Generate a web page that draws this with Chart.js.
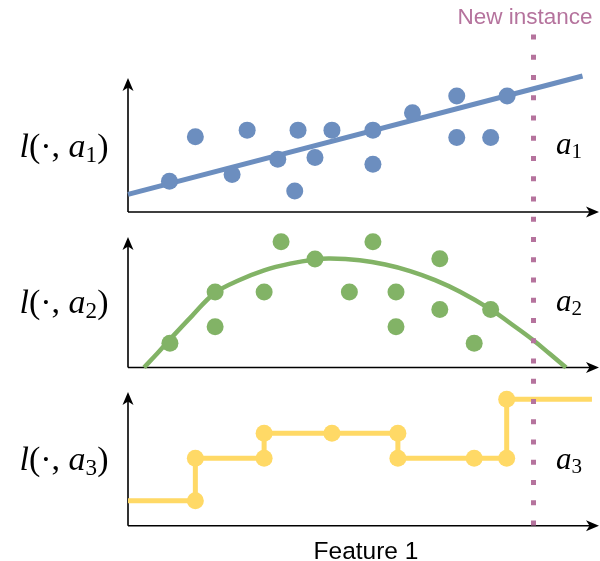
<!DOCTYPE html>
<html>
<head>
<meta charset="utf-8">
<script src="https://cdn.jsdelivr.net/npm/chart.js@4.4.0/dist/chart.umd.min.js"></script>
<style>
  html, body { margin: 0; padding: 0; background: #fff; }
  #wrap { position: relative; width: 600px; height: 561px; overflow: hidden; }
  #wrap canvas { position: absolute; left: 0; top: 0; }
  .math { position: absolute; font-family: 'Liberation Serif', 'Times New Roman', serif; color: #000;
          white-space: nowrap; line-height: 1; transform: translate(-50%, -50%); }
  .math i { font-style: italic; }
  .math sub { font-size: 0.68em; vertical-align: -0.22em; line-height: 0; }
  .left { font-size: 34px; }
  .right { font-size: 31px; }
  .sans { position: absolute; font-family: 'Liberation Sans', Arial, sans-serif; white-space: nowrap;
          line-height: 1; transform: translate(-50%, -50%); }
</style>
</head>
<body>
<div id="wrap">
  <canvas id="c1" width="600" height="561"></canvas>
  <canvas id="c2" width="600" height="561"></canvas>
  <canvas id="c3" width="600" height="561"></canvas>

  <div class="math left" style="left:64px; top:146px;"><i>l</i>(·, <i>a</i><sub>1</sub>)</div>
  <div class="math left" style="left:64px; top:302px;"><i>l</i>(·, <i>a</i><sub>2</sub>)</div>
  <div class="math left" style="left:64px; top:459px;"><i>l</i>(·, <i>a</i><sub>3</sub>)</div>

  <div class="math right" style="left:569px; top:143px;"><i>a</i><sub>1</sub></div>
  <div class="math right" style="left:569px; top:300px;"><i>a</i><sub>2</sub></div>
  <div class="math right" style="left:569px; top:458px;"><i>a</i><sub>3</sub></div>

  <div class="sans" style="left:525px; top:17px; font-size:22.5px; color:#b5739d;">New instance</div>
  <div class="sans" style="left:366px; top:551px; font-size:24.5px; color:#000;">Feature 1</div>
</div>

<script>
// ── Data (feature on x, loss on y; both axes run 0..10) ──
const newInstanceX = 8.6;

// a1: scattered losses + linear fit
const a1X = [0.88, 1.43, 2.21, 2.53, 3.18, 3.54, 3.61, 3.97, 4.33, 5.20, 5.20, 6.04, 6.98, 6.98, 7.70, 8.05];
const a1Y = [2.30, 5.61, 2.80, 6.11, 3.94, 1.57, 6.11, 4.07, 6.11, 6.11, 3.57, 7.40, 8.65, 5.56, 5.56, 8.65];
const a1FitX = [0, 9.65];
const a1FitY = [1.32, 10.15];

// a2: scattered losses + curved fit
const a2X = [0.89, 1.85, 1.85, 2.89, 3.25, 3.97, 4.70, 5.20, 5.69, 5.69, 6.62, 6.62, 7.35, 7.70];
const a2Y = [1.86, 5.79, 3.13, 5.79, 9.63, 8.31, 5.79, 9.63, 5.79, 3.13, 8.33, 4.45, 1.86, 4.45];
const a2FitX = [0.34, 0.62, 0.89, 1.36, 1.85, 2.38, 2.89, 3.44, 3.97, 4.29, 4.92,
                5.46, 5.99, 6.52, 7.05, 7.70, 8.11, 8.60, 8.96, 9.30];
const a2FitY = [0.00, 1.07, 2.15, 3.96, 5.72, 6.72, 7.45, 7.96, 8.28, 8.35, 8.21,
                7.89, 7.39, 6.70, 5.81, 4.46, 3.41, 2.11, 1.03, 0.00];

// a3: step function (dots only at the breakpoints)
const a3X = [0, 1.43, 1.43, 2.89, 2.89, 4.33, 5.73, 5.73, 7.35, 8.04, 8.04, 9.85];
const a3Y = [1.87, 1.87, 5.04, 5.04, 6.91, 6.91, 6.91, 5.04, 5.04, 5.04, 9.45, 9.45];
const a3Dot = [0, 1, 1, 1, 1, 1, 1, 1, 1, 1, 1, 0];

const blue   = '#6c8ebf';
const green  = '#82b366';
const yellow = '#ffd966';
const pink   = '#b5739d';

const toXY = (xs, ys) => xs.map((x, i) => ({ x: x, y: ys[i] }));

// ── axes with arrow heads ──
function arrowHead(ctx, tx, ty, dx, dy) {
  const len = 13, half = 5.5, notch = 9.5;
  const px = -dy, py = dx;
  ctx.beginPath();
  ctx.moveTo(tx, ty);
  ctx.lineTo(tx - dx * len + px * half, ty - dy * len + py * half);
  ctx.lineTo(tx - dx * notch, ty - dy * notch);
  ctx.lineTo(tx - dx * len - px * half, ty - dy * len - py * half);
  ctx.closePath();
  ctx.fill();
}

const axisArrows = {
  id: 'axisArrows',
  beforeDatasetsDraw(chart) {
    const { ctx, chartArea: a } = chart;
    ctx.save();
    ctx.strokeStyle = '#000';
    ctx.fillStyle = '#000';
    ctx.lineWidth = 1.6;
    ctx.beginPath();
    ctx.moveTo(a.left, a.bottom);
    ctx.lineTo(a.left, a.top + 8);
    ctx.moveTo(a.left, a.bottom);
    ctx.lineTo(a.right - 8, a.bottom);
    ctx.stroke();
    arrowHead(ctx, a.left, a.top, 0, -1);
    arrowHead(ctx, a.right, a.bottom, 1, 0);
    ctx.restore();
  }
};

const newInstanceLine = {
  id: 'newInstanceLine',
  afterDatasetsDraw(chart) {
    const { ctx } = chart;
    const x = Math.round(chart.scales.x.getPixelForValue(newInstanceX)) + 0.5;
    ctx.save();
    ctx.strokeStyle = pink;
    ctx.lineWidth = 5;
    ctx.setLineDash([5, 15.25]);
    ctx.beginPath();
    ctx.moveTo(x, 34.5);
    ctx.lineTo(x, 526);
    ctx.stroke();
    ctx.restore();
  }
};

function makeChart(id, padding, datasets, extraPlugins) {
  return new Chart(document.getElementById(id), {
    type: 'scatter',
    data: { datasets: datasets },
    options: {
      responsive: false,
      animation: false,
      events: [],
      layout: { padding: padding, autoPadding: false },
      plugins: { legend: { display: false }, tooltip: { enabled: false } },
      scales: {
        x: { type: 'linear', min: 0, max: 10, display: false },
        y: { type: 'linear', min: 0, max: 10, display: false }
      }
    },
    plugins: [axisArrows].concat(extraPlugins || [])
  });
}

const dot = { pointRadius: 8.5, pointBorderWidth: 0, pointHoverRadius: 8.5, clip: false };

makeChart('c1', { left: 128, right: 1, top: 78, bottom: 349 }, [
  Object.assign({ data: toXY(a1X, a1Y), backgroundColor: blue, order: 1 }, dot),
  { type: 'line', data: toXY(a1FitX, a1FitY), borderColor: blue, borderWidth: 5,
    pointRadius: 0, order: 2, clip: false }
]);

makeChart('c2', { left: 128, right: 1, top: 237, bottom: 193.5 }, [
  Object.assign({ data: toXY(a2X, a2Y), backgroundColor: green, order: 1 }, dot),
  { type: 'line', data: toXY(a2FitX, a2FitY), borderColor: green, borderWidth: 4.5,
    tension: 0.4, pointRadius: 0, order: 2, clip: false }
]);

makeChart('c3', { left: 128, right: 1, top: 392, bottom: 35.3 }, [
  { type: 'line', data: toXY(a3X, a3Y), borderColor: yellow, borderWidth: 5, tension: 0,
    backgroundColor: yellow, pointBackgroundColor: yellow, pointBorderWidth: 0,
    pointRadius: a3Dot.map(d => d ? 8.5 : 0), clip: false }
], [newInstanceLine]);
</script>
</body>
</html>
